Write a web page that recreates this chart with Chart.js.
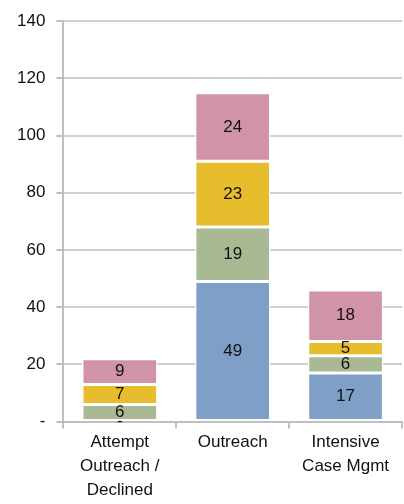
<!DOCTYPE html>
<html>
<head>
<meta charset="utf-8">
<script src="https://cdn.jsdelivr.net/npm/chart.js@4/dist/chart.umd.min.js"></script>
<style>
  html, body { margin: 0; padding: 0; background: #fff; }
  #wrap { width: 404px; height: 504px; }
</style>
</head>
<body>
<div id="wrap"><canvas id="chart"></canvas></div>
<script>
// Chart data
const categories = [['Attempt', 'Outreach /', 'Declined'], 'Outreach', ['Intensive', 'Case Mgmt']];
const blueValues = [0, 49, 17];
const greenValues = [6, 19, 6];
const yellowValues = [7, 23, 5];
const pinkValues = [9, 24, 18];
const yTicks = [0, 20, 40, 60, 80, 100, 120, 140];

Chart.defaults.font.family = '"Liberation Sans", Arial, sans-serif';
Chart.defaults.font.size = 17;
Chart.defaults.color = '#111';

// Draw value labels in the middle of each segment
const segmentLabels = {
    id: 'segmentLabels',
    afterDatasetsDraw(chart) {
        const ctx = chart.ctx;
        ctx.save();
        ctx.font = '17px "Liberation Sans", Arial, sans-serif';
        ctx.fillStyle = '#111';
        ctx.textAlign = 'center';
        ctx.textBaseline = 'middle';
        chart.data.datasets.forEach((ds, i) => {
            const meta = chart.getDatasetMeta(i);
            meta.data.forEach((bar, j) => {
                const v = ds.data[j];
                const y = (bar.y + bar.base) / 2;
                ctx.fillText(v === 0 ? '-' : String(v), bar.x, y);
            });
        });
        ctx.restore();
    }
};

function series(data, color) {
    return {
        data: data,
        backgroundColor: color,
        borderColor: '#ffffff',
        borderWidth: 1.5,
        borderSkipped: false,
        barPercentage: 0.67,
        categoryPercentage: 1
    };
}

new Chart(document.getElementById('chart'), {
    type: 'bar',
    data: {
        labels: categories,
        datasets: [
            series(blueValues, '#7f9fc6'),
            series(greenValues, '#a8b994'),
            series(yellowValues, '#e7bc2d'),
            series(pinkValues, '#d193a7')
        ]
    },
    options: {
        responsive: true,
        maintainAspectRatio: false,
        animation: false,
        layout: { padding: { top: 0, right: 2, left: 6, bottom: 0 } },
        plugins: {
            legend: { display: false },
            tooltip: { enabled: false }
        },
        scales: {
            x: {
                stacked: true,
                border: { color: '#bfbfbf', width: 2 },
                grid: {
                    offset: true,
                    drawOnChartArea: false,
                    drawTicks: true,
                    tickLength: 7,
                    color: '#bfbfbf',
                    lineWidth: 2
                },
                ticks: { color: '#111', padding: 2, maxRotation: 0, font: { size: 17, lineHeight: 1.4 } }
            },
            y: {
                stacked: true,
                min: 0,
                max: 140,
                afterBuildTicks(axis) {
                    axis.ticks = yTicks.map(v => ({ value: v }));
                },
                border: { color: '#bfbfbf', width: 2 },
                grid: {
                    color: '#d0d0d0',
                    lineWidth: 2,
                    tickLength: 7,
                    tickColor: '#bfbfbf'
                },
                ticks: {
                    color: '#111',
                    padding: 11,
                    callback: v => v === 0 ? '-' : v
                }
            }
        }
    },
    plugins: [segmentLabels]
});
</script>
</body>
</html>
